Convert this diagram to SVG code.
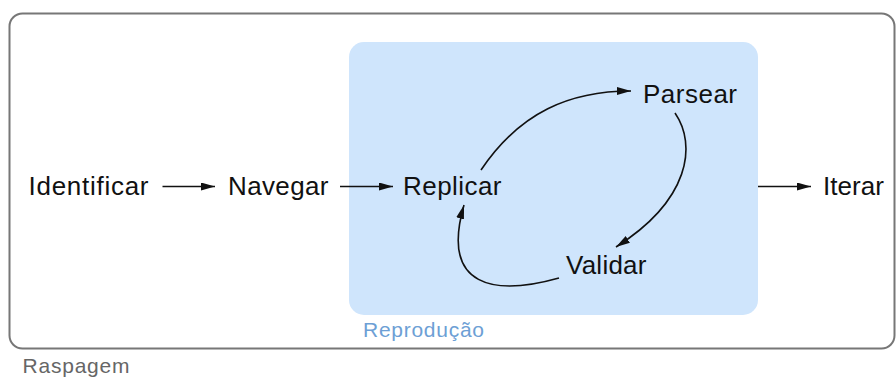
<svg xmlns="http://www.w3.org/2000/svg" width="896" height="377" viewBox="0 0 896 377">
<style>
.n{font-family:"Liberation Sans",Arial,sans-serif;font-size:26px;fill:#111}
.lbl{font-family:"Liberation Sans",Arial,sans-serif;font-size:21px}
.c{fill:none;stroke:#111;stroke-width:1.6}
</style>
<defs>
<marker id="ah" markerUnits="userSpaceOnUse" markerWidth="16" markerHeight="10" refX="14" refY="4" orient="auto">
<path d="M0,0 L14,4 L0,8 Z" fill="#111"/>
</marker>
</defs>
<g id="raspagem">
<rect x="9.5" y="13.5" width="885" height="335" rx="13" fill="#fff" stroke="#777" stroke-width="2"/>
<text class="lbl" x="22.5" y="372.5" fill="#666" textLength="107" lengthAdjust="spacing">Raspagem</text>
</g>
<g id="reproducao">
<rect x="349" y="42" width="409" height="273" rx="15" fill="#cfe5fc"/>
<text class="lbl" x="363" y="337" fill="#6d9fd5" textLength="121" lengthAdjust="spacing">Reprodução</text>
</g>
<g id="connectors">
<path class="c" d="M162.5,186.5 L215,186.5" marker-end="url(#ah)"/>
<path class="c" d="M340,186.5 L393,186.5" marker-end="url(#ah)"/>
<path class="c" d="M758,186.5 L811,186.5" marker-end="url(#ah)"/>
<path class="c" d="M481,170 C 520,112 570,91 631,91" marker-end="url(#ah)"/>
<path class="c" d="M675,113 C 697,145 690,200 616,247" marker-end="url(#ah)"/>
<path class="c" d="M559,278 C 495,296 440,288 464,205" marker-end="url(#ah)"/>
</g>
<g id="identificar"><text class="n" x="28.5" y="194.5" textLength="120" lengthAdjust="spacing">Identificar</text></g>
<g id="navegar"><text class="n" x="228" y="194.5" textLength="100.5" lengthAdjust="spacing">Navegar</text></g>
<g id="replicar"><text class="n" x="403" y="194.5" textLength="98.5" lengthAdjust="spacing">Replicar</text></g>
<g id="parsear"><text class="n" x="643" y="103" textLength="94" lengthAdjust="spacing">Parsear</text></g>
<g id="validar"><text class="n" x="566" y="274" textLength="80.5" lengthAdjust="spacing">Validar</text></g>
<g id="iterar"><text class="n" x="823" y="194.5" textLength="61" lengthAdjust="spacing">Iterar</text></g>
</svg>
